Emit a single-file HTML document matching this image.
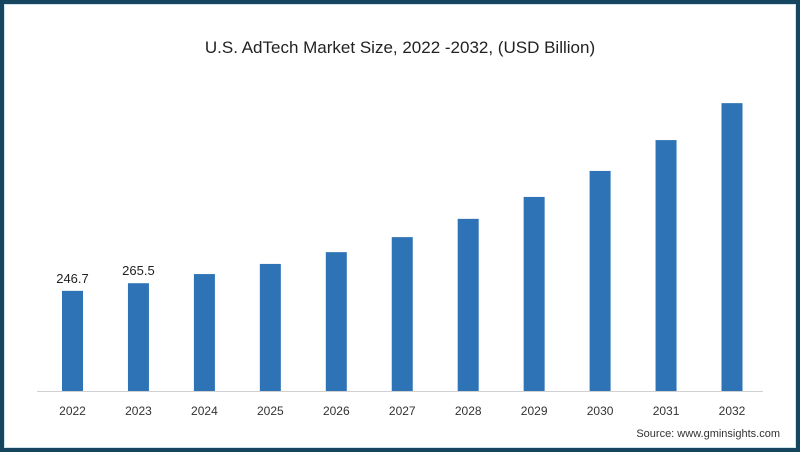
<!DOCTYPE html>
<html><head><meta charset="utf-8"><style>
html,body{margin:0;padding:0;background:#fff;}
#frame{position:absolute;left:0;top:0;width:800px;height:452px;box-sizing:border-box;border:4px solid #16465f;background:#fff;}
#inner{position:absolute;left:4px;top:4px;width:792px;height:444px;box-sizing:border-box;border:1px solid #cfe3ee;}
svg{position:absolute;left:0;top:0;font-family:"Liberation Sans",sans-serif;}
</style></head><body>
<div id="frame"></div>
<div id="inner"></div>
<svg id="chart" width="800" height="452">
<text x="400" y="53" text-anchor="middle" font-size="17" fill="#222">U.S. AdTech Market Size, 2022 -2032, (USD Billion)</text>
<line x1="37" y1="391.5" x2="763" y2="391.5" stroke="#d0d0d0" stroke-width="1"/>
<text x="780" y="437" text-anchor="end" font-size="11" fill="#333">Source: www.gminsights.com</text>
<g id="bars"></g>
</svg>
<script>
const categories=["2022","2023","2024","2025","2026","2027","2028","2029","2030","2031","2032"];
const values=[246.7,265.5,288,313,342,379,424,478,542,618,709];
const labels=["246.7","265.5","","","","","","","","",""];
const svg=document.getElementById('bars');
const NS='http://www.w3.org/2000/svg';
const base=391, pxPer=1/2.463;
function xc(i){return 72.5+i*65.95;}
function y(v){return base-v*pxPer;}
categories.forEach((c,i)=>{
  const r=document.createElementNS(NS,'rect');
  r.setAttribute('x',xc(i)-10.5);r.setAttribute('y',y(values[i]));
  r.setAttribute('width',21);r.setAttribute('height',base-y(values[i]));
  r.setAttribute('fill','#2e73b6');
  
  
  svg.appendChild(r);
  const t=document.createElementNS(NS,'text');
  t.setAttribute('x',xc(i));t.setAttribute('y',415);t.setAttribute('text-anchor','middle');
  t.setAttribute('font-size','12');t.setAttribute('fill','#333');t.textContent=c;
  
  
  svg.appendChild(t);
  if(labels[i]){
    const l=document.createElementNS(NS,'text');
    l.setAttribute('x',xc(i));l.setAttribute('y',y(values[i])-8);l.setAttribute('text-anchor','middle');
    l.setAttribute('font-size','13');l.setAttribute('fill','#222');l.textContent=labels[i];
    
    
    svg.appendChild(l);
  }
});
</script>
</body></html>
